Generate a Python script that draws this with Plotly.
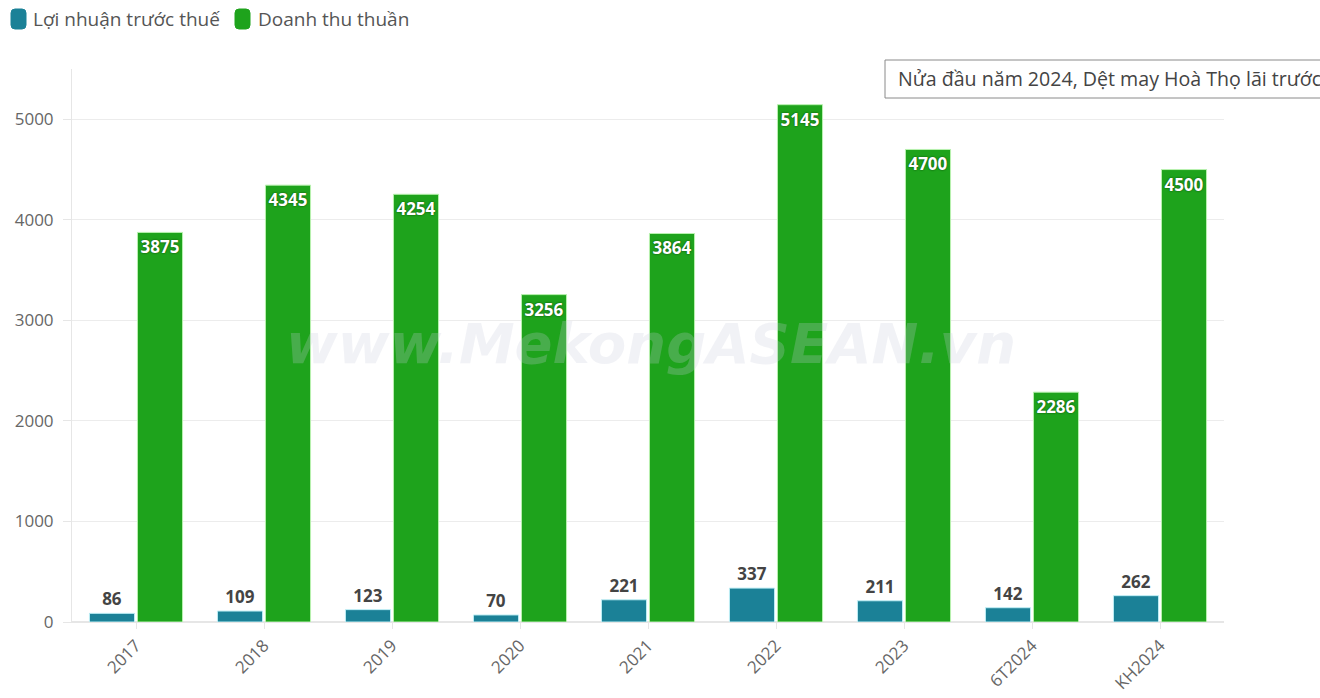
import plotly.graph_objects as go

# Kết quả kinh doanh Dệt may Hoà Thọ (tỷ đồng)
categories = ["2017", "2018", "2019", "2020", "2021", "2022", "2023", "6T2024", "KH2024"]
loi_nhuan = [86, 109, 123, 70, 221, 337, 211, 142, 262]
doanh_thu = [3875, 4345, 4254, 3256, 3864, 5145, 4700, 2286, 4500]
y_ticks = [0, 1000, 2000, 3000, 4000, 5000]
series_names = ["Lợi nhuận trước thuế", "Doanh thu thuần"]

FONT = "Open Sans, Noto Sans, sans-serif"
BLUE = "#1b8197"
GREEN = "#1ea31c"

# plot area in pixels
W, H = 1320, 698
L, R, T, B = 72, 96, 69, 76
PW, PH = W - L - R, H - T - B


def px(x):
    return (x - L) / PW


def py(y):
    return (H - B - y) / PH


fig = go.Figure()

fig.add_trace(go.Bar(
    name=series_names[0],
    x=categories,
    y=loi_nhuan,
    marker=dict(color=BLUE, line=dict(color="#bfeef5", width=1)),
    text=[str(v) for v in loi_nhuan],
    textposition="outside",
    textangle=0,
    cliponaxis=False,
    textfont=dict(family=FONT, size=17, color="#444444", weight="bold"),
))

fig.add_trace(go.Bar(
    name=series_names[1],
    x=categories,
    y=doanh_thu,
    marker=dict(color=GREEN, line=dict(color="#b9f2b0", width=1)),
    text=[str(v) for v in doanh_thu],
    textposition="inside",
    insidetextanchor="end",
    textangle=0,
    constraintext="none",
    textfont=dict(family=FONT, size=17, color="#ffffff", weight="bold",
                  shadow="0px 0px 2px #0b3d08"),
))

fig.update_layout(
    width=W,
    height=H,
    paper_bgcolor="white",
    plot_bgcolor="white",
    font=dict(family=FONT, size=17, color="#666666"),
    barmode="group",
    bargap=0.25,
    bargroupgap=0.06,
    margin=dict(l=L, r=R, t=T, b=B, autoexpand=False),
    showlegend=False,
    xaxis=dict(
        type="category",
        automargin=False,
        tickangle=-45,
        tickfont=dict(family=FONT, size=17, color="#666666"),
        ticks="outside",
        ticklen=6,
        tickcolor="#e6e6e6",
        showgrid=False,
        showline=True,
        linecolor="#e6e6e6",
        zeroline=False,
    ),
    yaxis=dict(
        range=[0, 5500],
        automargin=False,
        tickvals=y_ticks,
        ticktext=[str(v) for v in y_ticks],
        tickfont=dict(family=FONT, size=17, color="#666666"),
        ticks="outside",
        ticklen=8,
        ticklabelstandoff=6,
        tickcolor="#e6e6e6",
        showgrid=True,
        gridcolor="#ececec",
        showline=True,
        linecolor="#e6e6e6",
        zeroline=True,
        zerolinecolor="#e6e6e6",
    ),
)


def rounded_rect(x0, y0, x1, y1, r):
    # rounded rectangle path in paper coordinates, built from pixel corners
    X0, X1 = px(x0), px(x1)
    Y0, Y1 = py(y0), py(y1)
    rx, ry = r / PW, r / PH
    return (f"M {X0 + rx},{Y0} L {X1 - rx},{Y0} Q {X1},{Y0} {X1},{Y0 - ry} "
            f"L {X1},{Y1 + ry} Q {X1},{Y1} {X1 - rx},{Y1} "
            f"L {X0 + rx},{Y1} Q {X0},{Y1} {X0},{Y1 + ry} "
            f"L {X0},{Y0 - ry} Q {X0},{Y0} {X0 + rx},{Y0} Z")


# Legend: rounded swatches with labels at the top-left
legend_items = [(series_names[0], BLUE, 11, 31), (series_names[1], GREEN, 235, 256)]
for name, color, sx, tx in legend_items:
    fig.add_shape(
        type="path",
        xref="paper", yref="paper",
        path=rounded_rect(sx, 9, sx + 15, 29, 4),
        fillcolor=color,
        line=dict(color=color, width=1),
        layer="above",
    )
    fig.add_annotation(
        text=name,
        xref="paper", yref="paper",
        x=px(tx), y=py(19),
        xanchor="left", yanchor="middle",
        showarrow=False,
        font=dict(family=FONT, size=19, color="#555555"),
    )

# Watermark across the plot
fig.add_annotation(
    text="www.MekongASEAN.vn",
    xref="paper", yref="paper",
    x=px(651), y=py(343),
    showarrow=False,
    font=dict(family="DejaVu Sans, sans-serif", size=56, color="rgba(200,205,218,0.25)",
              weight="bold", style="italic"),
)

# Headline box in the top-right corner, running off the edge
fig.add_shape(
    type="rect",
    xref="paper", yref="paper",
    x0=px(885), x1=px(1340),
    y0=py(98), y1=py(60),
    line=dict(color="#8a8a8a", width=1),
    fillcolor="white",
    layer="above",
)
fig.add_annotation(
    text="Nửa đầu năm 2024, Dệt may Hoà Thọ lãi trước",
    xref="paper", yref="paper",
    x=px(896), y=py(79),
    xanchor="left", yanchor="middle",
    showarrow=False,
    font=dict(family=FONT, size=19.6, color="#444444"),
)

fig.write_html("out.html")
